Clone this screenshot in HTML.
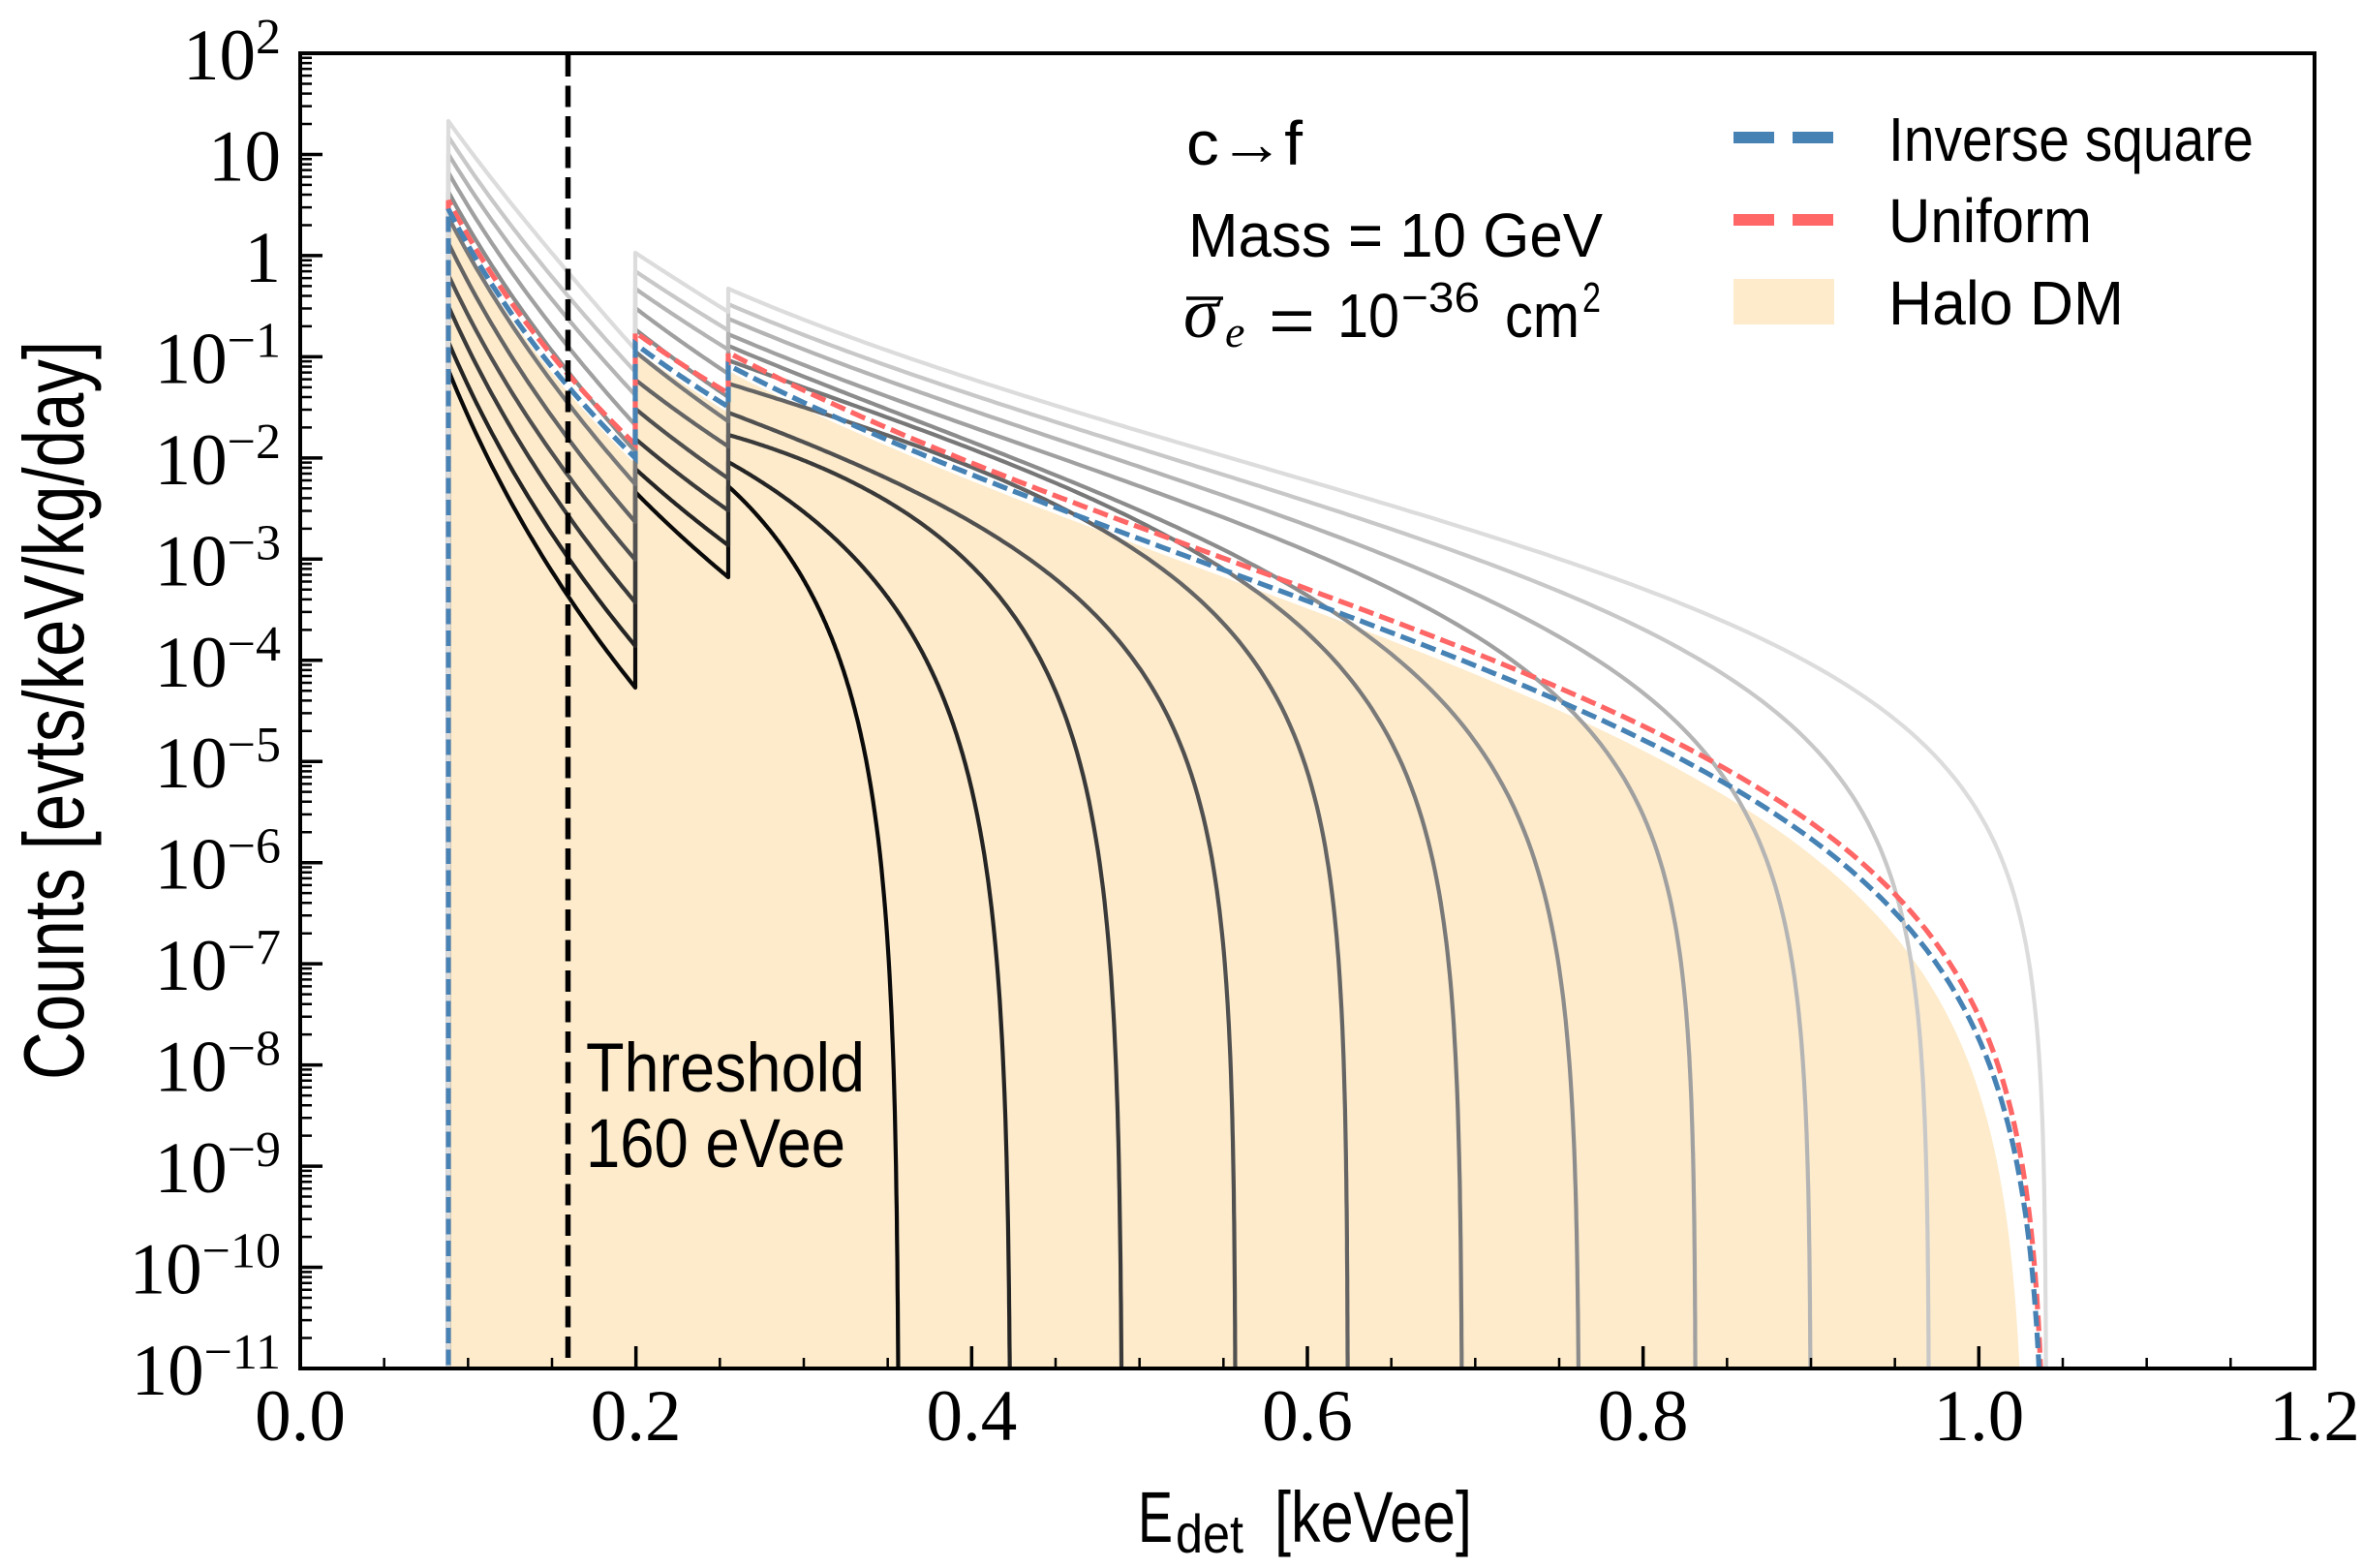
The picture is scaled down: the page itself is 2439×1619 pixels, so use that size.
<!DOCTYPE html>
<html><head><meta charset="utf-8">
<style>
html,body{margin:0;padding:0;background:#fff;}
svg{display:block;}
</style></head>
<body>
<svg id="s" width="2439" height="1619" viewBox="0 0 2439 1619" xmlns="http://www.w3.org/2000/svg">
<defs>
<clipPath id="ax"><rect x="310" y="55" width="2080" height="1358"/></clipPath>
<g id="dec"><path d="M310 -31.446h12M310 -49.84h12M310 -62.892h12M310 -73.015h12M310 -81.286h12M310 -88.28h12M310 -94.338h12M310 -99.681h12" stroke="#000" stroke-width="2.5" fill="none"/></g>
</defs>
<rect width="2439" height="1619" fill="#fff"/>

<g clip-path="url(#ax)">
  <path id="fill" fill="#fdebcb" stroke="none" transform="translate(0,6)"/>
  <g id="curves" fill="none" stroke-width="4.2" stroke-linejoin="round"></g>
  <path id="red" fill="none" stroke="#ff6666" stroke-width="5.2" stroke-dasharray="16 6.5"/>
  <path id="blue" fill="none" stroke="#4682b4" stroke-width="5.2" stroke-dasharray="16 6.5"/>
  <line x1="586.5" y1="57" x2="586.5" y2="1413" stroke="#000" stroke-width="5.5" stroke-dasharray="22 9.5"/>
</g>

<!-- ticks -->
<use href="#dec" y="1413"/>
<use href="#dec" y="1308.54"/>
<use href="#dec" y="1204.08"/>
<use href="#dec" y="1099.62"/>
<use href="#dec" y="995.15"/>
<use href="#dec" y="890.69"/>
<use href="#dec" y="786.23"/>
<use href="#dec" y="681.77"/>
<use href="#dec" y="577.31"/>
<use href="#dec" y="472.85"/>
<use href="#dec" y="368.38"/>
<use href="#dec" y="263.92"/>
<use href="#dec" y="159.46"/>
<path d="M310 1413h23M310 1308.54h23M310 1204.08h23M310 1099.62h23M310 995.15h23M310 890.69h23M310 786.23h23M310 681.77h23M310 577.31h23M310 472.85h23M310 368.38h23M310 263.92h23M310 159.46h23M310 55h23" stroke="#000" stroke-width="3.5"/>
<path d="M310 1413v-23M656.67 1413v-23M1003.33 1413v-23M1350 1413v-23M1696.67 1413v-23M2043.33 1413v-23M2390 1413v-23" stroke="#000" stroke-width="3.5"/>
<path d="M396.67 1413v-11M483.33 1413v-11M570 1413v-11M743.33 1413v-11M830 1413v-11M916.67 1413v-11M1090 1413v-11M1176.67 1413v-11M1263.33 1413v-11M1436.67 1413v-11M1523.33 1413v-11M1610 1413v-11M1783.33 1413v-11M1870 1413v-11M1956.67 1413v-11M2130 1413v-11M2216.67 1413v-11M2303.33 1413v-11" stroke="#000" stroke-width="2.5"/>
<rect x="310" y="55" width="2080" height="1358" fill="none" stroke="#000" stroke-width="4"/>

<!-- y tick labels -->
<g font-family="'Liberation Serif', serif" font-size="75" fill="#000" text-anchor="end">
<text x="290" y="82">10<tspan dy="-27" font-size="52">2</tspan></text>
<text x="290" y="186.5">10</text>
<text x="290" y="291">1</text>
<text x="290" y="395.4">10<tspan dy="-27" font-size="52">−1</tspan></text>
<text x="290" y="499.9">10<tspan dy="-27" font-size="52">−2</tspan></text>
<text x="290" y="604.3">10<tspan dy="-27" font-size="52">−3</tspan></text>
<text x="290" y="708.8">10<tspan dy="-27" font-size="52">−4</tspan></text>
<text x="290" y="813.2">10<tspan dy="-27" font-size="52">−5</tspan></text>
<text x="290" y="917.7">10<tspan dy="-27" font-size="52">−6</tspan></text>
<text x="290" y="1022.2">10<tspan dy="-27" font-size="52">−7</tspan></text>
<text x="290" y="1126.6">10<tspan dy="-27" font-size="52">−8</tspan></text>
<text x="290" y="1231.1">10<tspan dy="-27" font-size="52">−9</tspan></text>
<text x="290" y="1335.5">10<tspan dy="-27" font-size="52">−10</tspan></text>
<text x="290" y="1440">10<tspan dy="-27" font-size="52">−11</tspan></text>
</g>
<!-- x tick labels -->
<g font-family="'Liberation Serif', serif" font-size="75" fill="#000" text-anchor="middle">
<text x="310" y="1487">0.0</text>
<text x="656.67" y="1487">0.2</text>
<text x="1003.33" y="1487">0.4</text>
<text x="1350" y="1487">0.6</text>
<text x="1696.67" y="1487">0.8</text>
<text x="2043.33" y="1487">1.0</text>
<text x="2390" y="1487">1.2</text>
</g>

<!-- axis labels -->
<g font-family="'Liberation Sans', sans-serif" fill="#000">
<text transform="translate(86,733.5) rotate(-90)" text-anchor="middle" font-size="88" textLength="763" lengthAdjust="spacingAndGlyphs">Counts [evts/keV/kg/day]</text>
<text x="1175" y="1592" font-size="74" textLength="36" lengthAdjust="spacingAndGlyphs">E</text>
<text x="1214" y="1603" font-size="56" textLength="70" lengthAdjust="spacingAndGlyphs">det</text>
<text x="1316" y="1592" font-size="74" textLength="204" lengthAdjust="spacingAndGlyphs">[keVee]</text>

<!-- threshold -->
<text x="605" y="1127" font-size="71" textLength="288" lengthAdjust="spacingAndGlyphs">Threshold</text>
<text x="605" y="1205" font-size="71" textLength="268" lengthAdjust="spacingAndGlyphs">160 eVee</text>

<!-- annotation -->
<text x="1225" y="170" font-size="64" textLength="120" lengthAdjust="spacingAndGlyphs">c→f</text>
<text x="1227" y="265" font-size="64" textLength="428" lengthAdjust="spacingAndGlyphs">Mass = 10 GeV</text>
<text x="1222" y="348" font-family="'Liberation Serif', serif" font-style="italic" font-size="74">σ</text>
<line x1="1225" y1="308" x2="1263" y2="308" stroke="#000" stroke-width="3.5"/>
<text x="1265" y="358" font-family="'Liberation Serif', serif" font-style="italic" font-size="46">e</text>
<text x="1310" y="353" font-size="64" textLength="48" lengthAdjust="spacingAndGlyphs">=</text>
<text x="1381" y="348" font-size="64" textLength="64" lengthAdjust="spacingAndGlyphs">10</text>
<text x="1447" y="322" font-size="44" textLength="81" lengthAdjust="spacingAndGlyphs">−36</text>
<text x="1554" y="348" font-size="64" textLength="77" lengthAdjust="spacingAndGlyphs">cm</text>
<text x="1634" y="322" font-size="44" textLength="19" lengthAdjust="spacingAndGlyphs">2</text>

<!-- legend -->
<line x1="1790" y1="142" x2="1894" y2="142" stroke="#4682b4" stroke-width="12" stroke-dasharray="42 19"/>
<line x1="1790" y1="227" x2="1894" y2="227" stroke="#ff6666" stroke-width="12" stroke-dasharray="42 19"/>
<rect x="1790" y="288" width="104" height="47" fill="#fdebcb"/>
<text x="1950" y="166" font-size="64" textLength="377" lengthAdjust="spacingAndGlyphs">Inverse square</text>
<text x="1950" y="250" font-size="64" textLength="210" lengthAdjust="spacingAndGlyphs">Uniform</text>
<text x="1950" y="335" font-size="64" textLength="243" lengthAdjust="spacingAndGlyphs">Halo DM</text>
</g>

<script>
(function(){
const X=E=>310+E*1733.333, Ex=x=>(x-310)/1733.333;
const Y=v=>55+(2-v)*104.4615, V=y=>2-(y-55)/104.4615;
const XA=463, XJ1=656, XJ2=752, YB=1432;
function seg(pts,x0,x1,y0,y1,w){
  const E0=Ex(x0),E1=Ex(x1),lr=Math.log(E1/E0);
  const n=60;
  for(let i=0;i<=n;i++){
    const t=i/n, x=x0+(x1-x0)*t, E=Ex(x);
    const P=Math.log(E/E0)/lr;
    const f=w*P+(1-w)*t;
    pts.push([x,y0+(y1-y0)*f]);
  }
}
function seg3(pts,x0,ys,Emax,c,B){
  const E1=Ex(x0), vs=V(ys), u1=1-E1/Emax, L1=Math.log10(u1);
  const Es=[];
  const Ebr=Emax*(1-0.06);
  for(let i=0;i<=160;i++) Es.push(E1+(Ebr-E1)*i/160);
  for(let i=1;i<=260;i++){const u=0.06*Math.pow(1e-10/0.06,i/260); Es.push(Emax*(1-u));}
  let done=false;
  for(const E of Es){
    const u=1-E/Emax;
    const v=vs+c*Math.log10(E/E1)+B*(Math.log10(u)-L1);
    const y=Y(v);
    pts.push([X(E),Math.min(y,YB)]);
    if(y>=YB){done=true;break;}
  }
  if(!done) pts.push([X(Emax),YB]);
}
function curve(p){
  const pts=[[XA,YB],[XA,p.s1]];
  seg(pts,XA,XJ1,p.s1,p.e1,p.w);
  pts.push([XJ1,p.s2]);
  seg(pts,XJ1,XJ2,p.s2,p.e2,p.w);
  pts.push([XJ2,p.s3]);
  seg3(pts,XJ2,p.s3,p.Emax,p.c,p.B);
  return 'M'+pts.map(q=>q[0].toFixed(1)+' '+q[1].toFixed(1)).join('L');
}
const P=[
 [125,361,261,322,298,2113,-3.47,2.42,'#dcdcdc'],
 [141,384,280,341,314,1992,-3.31,2.52,'#c8c8c8'],
 [159,408,298,361,329,1870,-3.13,2.65,'#b4b4b4'],
 [178,439,318,386,345,1751,-3.03,2.57,'#a0a0a0'],
 [198,466,340,410,357,1631,-2.58,3.05,'#8c8c8c'],
 [224,500,363,435,372,1510,-1.8,3.0,'#787878'],
 [251,539,392,461,396,1392,-0.97,2.94,'#646464'],
 [284,578,422,494,426,1276,-1.13,3.04,'#505050'],
 [316,622,453,527,449,1159,1.25,3.69,'#3a3a3a'],
 [353,667,484,563,477,1044,0.40,3.87,'#242424'],
 [382,710,508,596,502,928.5,1.2,4.0,'#0a0a0a']
];
const NS='http://www.w3.org/2000/svg';
const gC=document.getElementById('curves');
for(let k=10;k>=0;k--){
  const p=P[k]; const w=0.25+0.59*Math.sqrt(k/10);
  const el=document.createElementNS(NS,'path');
  el.setAttribute('d',curve({s1:p[0],e1:p[1],s2:p[2],e2:p[3],s3:p[4],Emax:Ex(p[5]),c:p[6],B:p[7],w:w}));
  el.setAttribute('stroke',p[8]);
  gC.appendChild(el);
}
const red={s1:207,e1:459,s2:343,e2:406,s3:364,Emax:Ex(2113),c:-4.14,B:3.18,w:0.84};
const blue={s1:216,e1:473,s2:355,e2:420,s3:377,Emax:Ex(2113),c:-4.04,B:3.30,w:0.84};
const fill=Object.assign({},blue,{Emax:Ex(2093)});
document.getElementById('red').setAttribute('d',curve(red));
document.getElementById('blue').setAttribute('d',curve(blue));
document.getElementById('fill').setAttribute('d',curve(fill)+'Z');
})();
</script>
</svg>
</body></html>
